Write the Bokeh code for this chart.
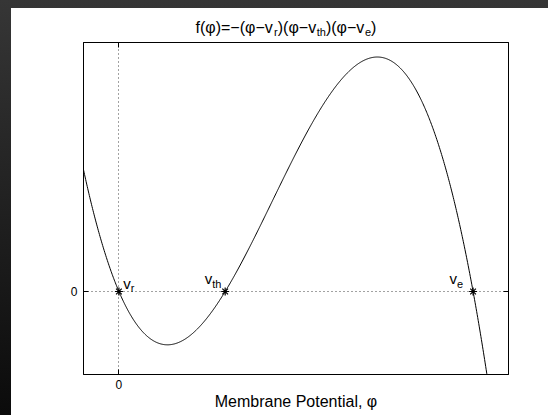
import numpy as np
from bokeh.plotting import figure
from bokeh.models import Range1d, FixedTicker, LinearAxis, Label
from bokeh.layouts import column
from bokeh.embed import file_html
from bokeh.resources import INLINE

# Roots of the cubic: reset, threshold and excitation potentials
root_subscripts = ["r", "th", "e"]
root_values = [0.0, 0.3, 1.0]
root_f = [0.0, 0.0, 0.0]

x_ticks = [0]
y_ticks = [0]
x_tick_labels = {0: "0"}
y_tick_labels = {0: "0"}

X0, X1 = -0.1, 1.1
Y0, Y1 = -0.03, 0.09

# f(phi) = -(phi - v_r)(phi - v_th)(phi - v_e)
phi = np.linspace(X0, X1, 801)
f = -(phi - root_values[0]) * (phi - root_values[1]) * (phi - root_values[2])

FONT = "Liberation Sans"
W = 537
TITLE_H = 30
H = 415 - 8 - TITLE_H
LEFT, RIGHT, TOP, BOTTOM = 72, 40, 4, 41
FW, FH = W - LEFT - RIGHT, H - TOP - BOTTOM

# Arial/Liberation advance widths (em)
ADV = {'f': .278, '(': .333, ')': .333, '=': .584, '−': .584, 'v': .5,
       'r': .333, 't': .278, 'h': .556, 'e': .556, 'φ': .69}


def text_width(s, size):
    return sum(ADV.get(c, .556) for c in s) * size


def rich(fig, parts, x, y, to_data):
    """Draw text runs (text, size, baseline drop) left to right from pixel (x, y)."""
    for txt, size, drop in parts:
        dx, dy = to_data(x, y + drop)
        fig.add_layout(Label(x=dx, y=dy, text=txt, text_font=FONT,
                             text_font_size=f"{size}px", text_color="black",
                             text_align="left", text_baseline="alphabetic"))
        x += text_width(txt, size)


# ---- title strip: data units are the strip's own pixels ----
t = figure(width=W, height=TITLE_H, x_range=Range1d(LEFT, W - RIGHT),
           y_range=Range1d(TITLE_H, 0),
           output_backend="svg", toolbar_location=None,
           min_border_left=LEFT, min_border_right=RIGHT,
           min_border_top=0, min_border_bottom=0,
           x_axis_type=None, y_axis_type=None, outline_line_color=None,
           background_fill_color=None, border_fill_color=None)
t.grid.visible = False

MAIN, SUB, DROP = 16, 11, 4.5
title_parts = [("f(φ)=−(φ−v", MAIN, 0), ("r", SUB, DROP),
               (")(φ−v", MAIN, 0), ("th", SUB, DROP),
               (")(φ−v", MAIN, 0), ("e", SUB, DROP), (")", MAIN, 0)]
tw = sum(text_width(s, z) for s, z, _ in title_parts)
rich(t, title_parts, 274.5 - tw / 2, 19, lambda x, y: (x, y))

# ---- main axes ----
p = figure(width=W, height=H, x_range=Range1d(X0, X1), y_range=Range1d(Y0, Y1),
           output_backend="svg", toolbar_location=None,
           min_border_left=LEFT, min_border_right=RIGHT,
           min_border_top=TOP, min_border_bottom=BOTTOM,
           background_fill_color="white", border_fill_color=None,
           outline_line_color="black", outline_line_width=1)

for ax in (p.xaxis[0], p.yaxis[0]):
    ax.axis_line_color = "black"
    ax.major_tick_line_color = "black"
    ax.major_tick_in = 5
    ax.major_tick_out = 0
    ax.minor_tick_line_color = None
    ax.major_label_text_font = FONT
    ax.major_label_text_font_size = "12px"
    ax.major_label_text_color = "black"

p.xaxis.ticker = FixedTicker(ticks=x_ticks)
p.yaxis.ticker = FixedTicker(ticks=y_ticks)
p.xaxis.major_label_overrides = x_tick_labels
p.yaxis.major_label_overrides = y_tick_labels
p.xaxis.major_label_standoff = 5
p.yaxis.major_label_standoff = 6
p.xaxis.axis_label = "Membrane Potential, φ"
p.xaxis.axis_label_text_font = FONT
p.xaxis.axis_label_text_font_size = "16px"
p.xaxis.axis_label_text_font_style = "normal"
p.xaxis.axis_label_text_color = "black"
p.xaxis.axis_label_standoff = 1

# Box axes on the other two sides: ticks only
for side, tk in (("above", x_ticks), ("right", y_ticks)):
    ax = LinearAxis(ticker=FixedTicker(ticks=tk), major_label_overrides={v: "" for v in tk},
                    major_label_standoff=0,
                    major_tick_in=5, major_tick_out=0, minor_tick_line_color=None,
                    axis_line_color="black", major_tick_line_color="black")
    p.add_layout(ax, side)

for g, tk in ((p.xgrid[0], x_ticks), (p.ygrid[0], y_ticks)):
    g.ticker = FixedTicker(ticks=tk)
    g.grid_line_color = "#444444"
    g.grid_line_dash = "1 3"
    g.grid_line_width = 1

p.line(phi, f, line_color="black", line_width=1)
p.scatter(root_values, root_f, marker="asterisk", size=8,
          line_color="black", line_width=1.2)


def px_to_data(sx, sy):
    return (X0 + (sx - LEFT) / FW * (X1 - X0),
            Y1 - (sy - TOP) / FH * (Y1 - Y0))


def px_x(v):
    return LEFT + (v - X0) / (X1 - X0) * FW


def px_y(v):
    return TOP + (Y1 - v) / (Y1 - Y0) * FH


# Root labels v_r, v_th, v_e next to their markers
label_offsets = {"r": (4.3, -8.5), "th": (-20.4, -12.7), "e": (-23.6, -13)}
for name, v in zip(root_subscripts, root_values):
    ox, oy = label_offsets[name]
    rich(p, [("v", 15, 0), (name, 11, 5)], px_x(v) + ox, px_y(0) + oy, px_to_data)

sheet = column(t, p, spacing=0, margin=(8, 0, 0, 11),
               styles={"background-color": "white"})
root = column(sheet, width=548, height=415,
              styles={"background": "linear-gradient(#363636, #0b0b0b)"})

open("out.html", "w").write(file_html(root, INLINE))
